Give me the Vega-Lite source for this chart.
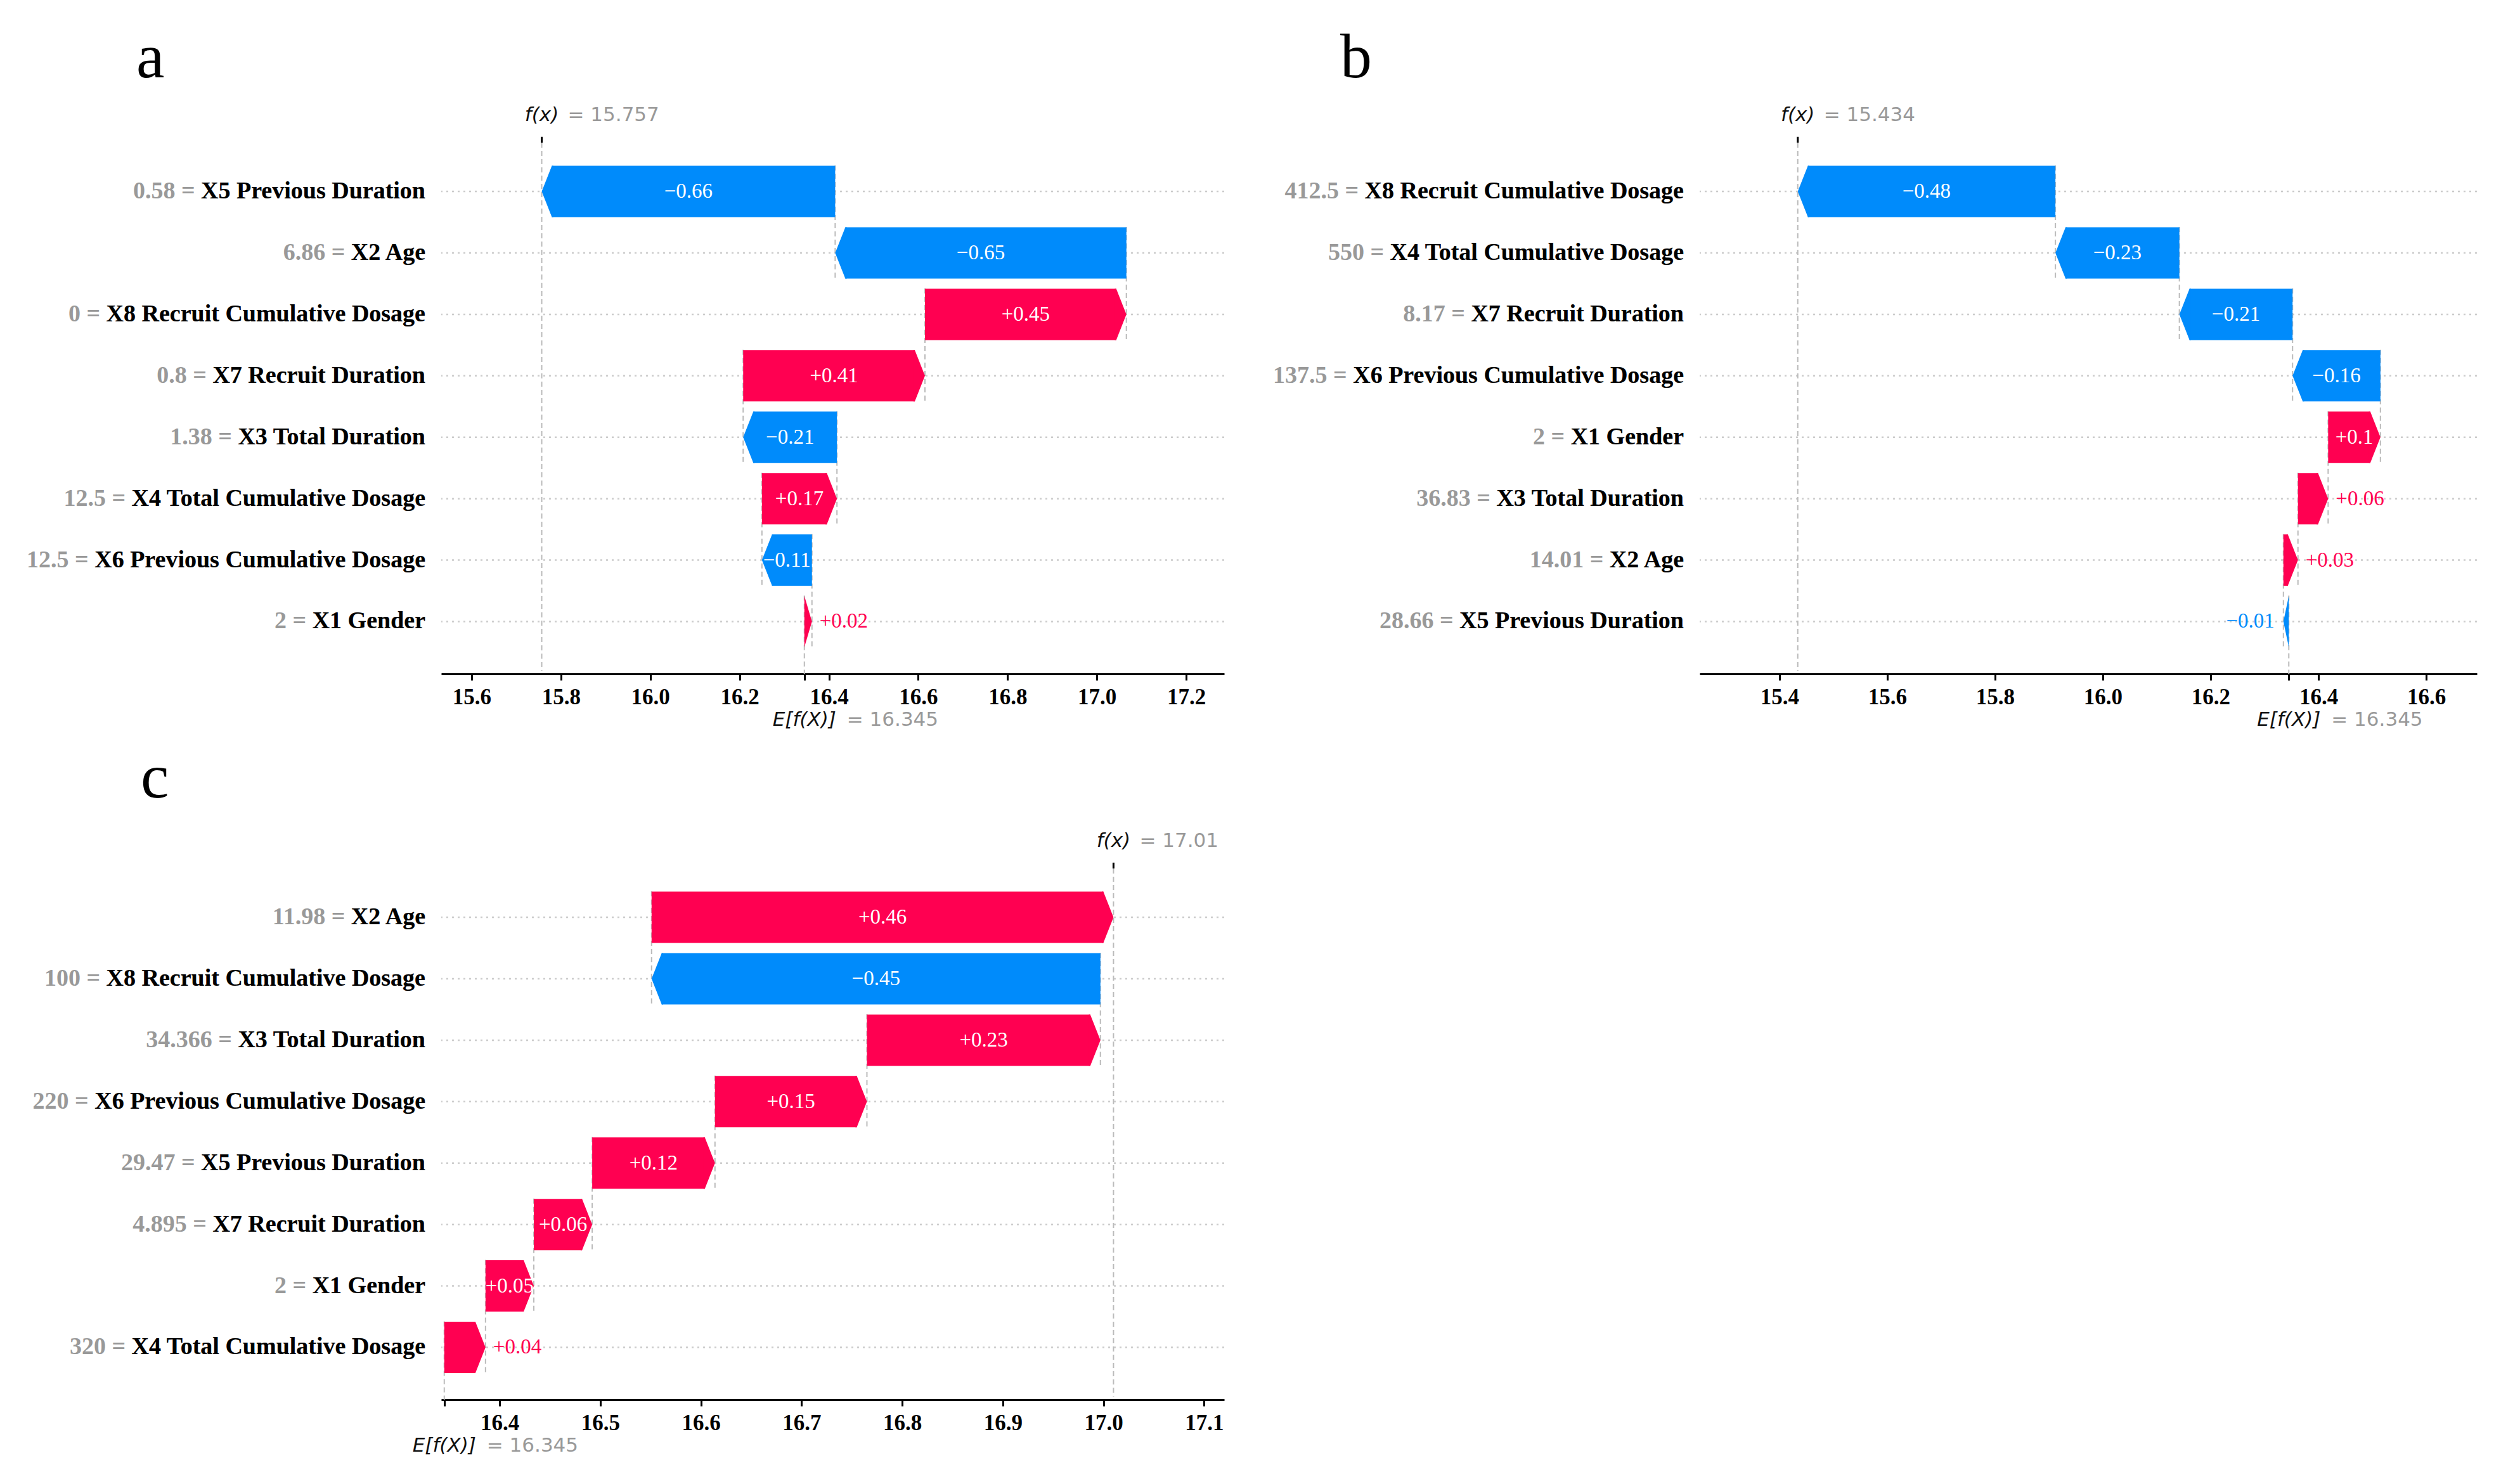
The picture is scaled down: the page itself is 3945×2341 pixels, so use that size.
{
"$schema": "https://vega.github.io/schema/vega-lite/v6.json",
"background": "white",
"padding": {"left": 42, "top": 41, "right": 0, "bottom": 0},
"bounds": "flush",
"columns": 2,
"spacing": {"row": 302, "column": 750},
"config": {"view": {"stroke": null}},
"datasets": {
"a": [
{"rank":1,"val":"0.58","feature":"X5 Previous Duration","start":16.414,"end":15.757,"label":"−0.66"},
{"rank":2,"val":"6.86","feature":"X2 Age","start":17.066,"end":16.414,"label":"−0.65"},
{"rank":3,"val":"0","feature":"X8 Recruit Cumulative Dosage","start":16.615,"end":17.066,"label":"+0.45"},
{"rank":4,"val":"0.8","feature":"X7 Recruit Duration","start":16.208,"end":16.615,"label":"+0.41"},
{"rank":5,"val":"1.38","feature":"X3 Total Duration","start":16.418,"end":16.208,"label":"−0.21"},
{"rank":6,"val":"12.5","feature":"X4 Total Cumulative Dosage","start":16.25,"end":16.418,"label":"+0.17"},
{"rank":7,"val":"12.5","feature":"X6 Previous Cumulative Dosage","start":16.362,"end":16.25,"label":"−0.11"},
{"rank":8,"val":"2","feature":"X1 Gender","start":16.345,"end":16.362,"label":"+0.02"}
],
"b": [
{"rank":1,"val":"412.5","feature":"X8 Recruit Cumulative Dosage","start":15.912,"end":15.434,"label":"−0.48"},
{"rank":2,"val":"550","feature":"X4 Total Cumulative Dosage","start":16.142,"end":15.912,"label":"−0.23"},
{"rank":3,"val":"8.17","feature":"X7 Recruit Duration","start":16.352,"end":16.142,"label":"−0.21"},
{"rank":4,"val":"137.5","feature":"X6 Previous Cumulative Dosage","start":16.515,"end":16.352,"label":"−0.16"},
{"rank":5,"val":"2","feature":"X1 Gender","start":16.418,"end":16.515,"label":"+0.1"},
{"rank":6,"val":"36.83","feature":"X3 Total Duration","start":16.362,"end":16.418,"label":"+0.06"},
{"rank":7,"val":"14.01","feature":"X2 Age","start":16.335,"end":16.362,"label":"+0.03"},
{"rank":8,"val":"28.66","feature":"X5 Previous Duration","start":16.345,"end":16.335,"label":"−0.01"}
],
"c": [
{"rank":1,"val":"11.98","feature":"X2 Age","start":16.551,"end":17.01,"label":"+0.46"},
{"rank":2,"val":"100","feature":"X8 Recruit Cumulative Dosage","start":16.997,"end":16.551,"label":"−0.45"},
{"rank":3,"val":"34.366","feature":"X3 Total Duration","start":16.765,"end":16.997,"label":"+0.23"},
{"rank":4,"val":"220","feature":"X6 Previous Cumulative Dosage","start":16.614,"end":16.765,"label":"+0.15"},
{"rank":5,"val":"29.47","feature":"X5 Previous Duration","start":16.492,"end":16.614,"label":"+0.12"},
{"rank":6,"val":"4.895","feature":"X7 Recruit Duration","start":16.434,"end":16.492,"label":"+0.06"},
{"rank":7,"val":"2","feature":"X1 Gender","start":16.386,"end":16.434,"label":"+0.05"},
{"rank":8,"val":"320","feature":"X4 Total Cumulative Dosage","start":16.345,"end":16.386,"label":"+0.04"}
]
},
"concat": [
{
"width": 1235, "height": 843,
"data": {"name": "a"},
"title": {"text": "a", "anchor": "start", "frame": "group", "dx": -481, "offset": -56, "fontSize": 100, "font": "Liberation Serif", "fontWeight": "normal", "color": "#000000", "baseline": "alphabetic"},
"layer": [
{"mark": {"type": "rule", "color": "#cccccc", "strokeWidth": 2.5, "strokeDash": [3, 6]},
 "encoding": {"y": {"field": "rank", "type": "quantitative", "scale": {"domain": [0.205, 8.8], "nice": false, "zero": false, "reverse": true}, "axis": null}}},
{"mark": {"type": "rule", "color": "#bbbbbb", "strokeWidth": 2, "strokeDash": [8, 5], "yOffset": -41, "y2Offset": 139, "clip": true},
 "encoding": {"x": {"field": "start", "type": "quantitative", "scale": {"domain": [15.532, 17.285], "nice": false, "zero": false},
   "axis": {"values": [15.6, 15.8, 16.0, 16.2, 16.4, 16.6, 16.8, 17.0, 17.2, 16.345], "labelExpr": "datum.value == 16.345 ? '' : format(datum.value, '.1f')", "title": null, "grid": false, "domainColor": "#000000", "domainWidth": 3, "tickColor": "#000000", "tickWidth": 3, "tickSize": 10, "labelFont": "Liberation Serif", "labelFontSize": 35, "labelFontWeight": "bold", "labelColor": "#000000", "labelPadding": 9, "labelFlush": false, "labelOverlap": false}},
   "y": {"field": "rank", "type": "quantitative", "scale": {"domain": [0.205, 8.8], "nice": false, "zero": false, "reverse": true}, "axis": null},
   "y2": {"field": "rank"}}},
{"data": {"values": [{}]}, "mark": {"type": "rule", "color": "#bbbbbb", "strokeWidth": 2, "strokeDash": [8, 5]},
 "encoding": {"x": {"datum": 15.757, "type": "quantitative"}, "y": {"datum": 0.205, "type": "quantitative", "axis": null}, "y2": {"datum": 8.8}}},
{"data": {"values": [{}]}, "mark": {"type": "rule", "color": "#000000", "strokeWidth": 3},
 "encoding": {"x": {"datum": 15.757, "type": "quantitative"}, "y": {"datum": 0.11, "type": "quantitative", "axis": null}, "y2": {"datum": 0.205}}},
{"transform": [{"filter": "datum.end - datum.start > 0.023"}],
 "mark": {"type": "bar", "size": 81, "x2Offset": -16, "color": "#ff0051"},
 "encoding": {"x": {"field": "start", "type": "quantitative"}, "x2": {"field": "end"}, "y": {"field": "rank", "type": "quantitative", "axis": null}}},
{"transform": [{"filter": "datum.start - datum.end > 0.023"}],
 "mark": {"type": "bar", "size": 81, "x2Offset": 16, "color": "#008bfb"},
 "encoding": {"x": {"field": "start", "type": "quantitative"}, "x2": {"field": "end"}, "y": {"field": "rank", "type": "quantitative", "axis": null}}},
{"transform": [{"filter": "datum.end - datum.start > 0.023"}],
 "mark": {"type": "point", "shape": "M-0.45,-1L-0.395,-1L0,0L-0.395,1L-0.45,1Z", "size": 6561, "filled": true, "opacity": 1, "strokeWidth": 0, "color": "#ff0051"},
 "encoding": {"x": {"field": "end", "type": "quantitative"}, "y": {"field": "rank", "type": "quantitative", "axis": null}}},
{"transform": [{"filter": "datum.start - datum.end > 0.023"}],
 "mark": {"type": "point", "shape": "M0.45,-1L0.395,-1L0,0L0.395,1L0.45,1Z", "size": 6561, "filled": true, "opacity": 1, "strokeWidth": 0, "color": "#008bfb"},
 "encoding": {"x": {"field": "end", "type": "quantitative"}, "y": {"field": "rank", "type": "quantitative", "axis": null}}},
{"transform": [{"filter": "datum.end > datum.start && datum.end - datum.start <= 0.023"}],
 "mark": {"type": "point", "shape": "M-0.296,-1L0,0L-0.296,1Z", "size": 6561, "filled": true, "opacity": 1, "strokeWidth": 0, "color": "#ff0051"},
 "encoding": {"x": {"field": "end", "type": "quantitative"}, "y": {"field": "rank", "type": "quantitative", "axis": null}}},
{"transform": [{"filter": "abs(datum.end - datum.start) >= 0.05"}, {"calculate": "(datum.start + datum.end) / 2", "as": "mid"}],
 "mark": {"type": "text", "font": "Liberation Serif", "fontSize": 33, "color": "#ffffff", "align": "center", "baseline": "middle"},
 "encoding": {"x": {"field": "mid", "type": "quantitative"}, "y": {"field": "rank", "type": "quantitative", "axis": null}, "text": {"field": "label"}}},
{"transform": [{"filter": "datum.end > datum.start && datum.end - datum.start < 0.05"}],
 "mark": {"type": "text", "font": "Liberation Serif", "fontSize": 33, "color": "#ff0051", "align": "left", "baseline": "middle", "dx": 12},
 "encoding": {"x": {"field": "end", "type": "quantitative"}, "y": {"field": "rank", "type": "quantitative", "axis": null}, "text": {"field": "label"}}},
{"transform": [{"calculate": "datum.val + ' = ' + datum.feature", "as": "full"}],
 "mark": {"type": "text", "font": "Liberation Serif", "fontSize": 38, "fontWeight": "bold", "color": "#999999", "align": "right", "baseline": "middle", "dx": -25},
 "encoding": {"x": {"datum": 15.532, "type": "quantitative"}, "y": {"field": "rank", "type": "quantitative", "axis": null}, "text": {"field": "full"}}},
{"mark": {"type": "text", "font": "Liberation Serif", "fontSize": 38, "fontWeight": "bold", "color": "#000000", "align": "right", "baseline": "middle", "dx": -25},
 "encoding": {"x": {"datum": 15.532, "type": "quantitative"}, "y": {"field": "rank", "type": "quantitative", "axis": null}, "text": {"field": "feature"}}},
{"data": {"values": [{}]}, "mark": {"type": "text", "text": "f(x)", "font": "DejaVu Sans", "fontSize": 31, "fontStyle": "italic", "color": "#111111", "align": "center", "baseline": "middle"},
 "encoding": {"x": {"datum": 15.757, "type": "quantitative"}, "y": {"datum": -0.24, "type": "quantitative", "axis": null}}},
{"data": {"values": [{}]}, "mark": {"type": "text", "text": "= 15.757", "font": "DejaVu Sans", "fontSize": 31, "color": "#999999", "align": "left", "baseline": "middle", "dx": 41},
 "encoding": {"x": {"datum": 15.757, "type": "quantitative"}, "y": {"datum": -0.24, "type": "quantitative", "axis": null}}},
{"data": {"values": [{}]}, "mark": {"type": "text", "text": "E[f(X)]", "font": "DejaVu Sans", "fontSize": 31, "fontStyle": "italic", "color": "#111111", "align": "center", "baseline": "middle"},
 "encoding": {"x": {"datum": 16.345, "type": "quantitative"}, "y": {"datum": 9.6, "type": "quantitative", "axis": null}}},
{"data": {"values": [{}]}, "mark": {"type": "text", "text": "= 16.345", "font": "DejaVu Sans", "fontSize": 31, "color": "#999999", "align": "left", "baseline": "middle", "dx": 67},
 "encoding": {"x": {"datum": 16.345, "type": "quantitative"}, "y": {"datum": 9.6, "type": "quantitative", "axis": null}}}
]
},
{
"width": 1226, "height": 843,
"data": {"name": "b"},
"title": {"text": "b", "anchor": "start", "frame": "group", "dx": -567, "offset": -56, "fontSize": 100, "font": "Liberation Serif", "fontWeight": "normal", "color": "#000000", "baseline": "alphabetic"},
"layer": [
{"mark": {"type": "rule", "color": "#cccccc", "strokeWidth": 2.5, "strokeDash": [3, 6]},
 "encoding": {"y": {"field": "rank", "type": "quantitative", "scale": {"domain": [0.205, 8.8], "nice": false, "zero": false, "reverse": true}, "axis": null}}},
{"mark": {"type": "rule", "color": "#bbbbbb", "strokeWidth": 2, "strokeDash": [8, 5], "yOffset": -41, "y2Offset": 139, "clip": true},
 "encoding": {"x": {"field": "start", "type": "quantitative", "scale": {"domain": [15.252, 16.694], "nice": false, "zero": false},
   "axis": {"values": [15.4, 15.6, 15.8, 16.0, 16.2, 16.4, 16.6, 16.345], "labelExpr": "datum.value == 16.345 ? '' : format(datum.value, '.1f')", "title": null, "grid": false, "domainColor": "#000000", "domainWidth": 3, "tickColor": "#000000", "tickWidth": 3, "tickSize": 10, "labelFont": "Liberation Serif", "labelFontSize": 35, "labelFontWeight": "bold", "labelColor": "#000000", "labelPadding": 9, "labelFlush": false, "labelOverlap": false}},
   "y": {"field": "rank", "type": "quantitative", "scale": {"domain": [0.205, 8.8], "nice": false, "zero": false, "reverse": true}, "axis": null},
   "y2": {"field": "rank"}}},
{"data": {"values": [{}]}, "mark": {"type": "rule", "color": "#bbbbbb", "strokeWidth": 2, "strokeDash": [8, 5]},
 "encoding": {"x": {"datum": 15.434, "type": "quantitative"}, "y": {"datum": 0.205, "type": "quantitative", "axis": null}, "y2": {"datum": 8.8}}},
{"data": {"values": [{}]}, "mark": {"type": "rule", "color": "#000000", "strokeWidth": 3},
 "encoding": {"x": {"datum": 15.434, "type": "quantitative"}, "y": {"datum": 0.11, "type": "quantitative", "axis": null}, "y2": {"datum": 0.205}}},
{"transform": [{"filter": "datum.end - datum.start > 0.019"}],
 "mark": {"type": "bar", "size": 81, "x2Offset": -16, "color": "#ff0051"},
 "encoding": {"x": {"field": "start", "type": "quantitative"}, "x2": {"field": "end"}, "y": {"field": "rank", "type": "quantitative", "axis": null}}},
{"transform": [{"filter": "datum.start - datum.end > 0.019"}],
 "mark": {"type": "bar", "size": 81, "x2Offset": 16, "color": "#008bfb"},
 "encoding": {"x": {"field": "start", "type": "quantitative"}, "x2": {"field": "end"}, "y": {"field": "rank", "type": "quantitative", "axis": null}}},
{"transform": [{"filter": "datum.end - datum.start > 0.019"}],
 "mark": {"type": "point", "shape": "M-0.45,-1L-0.395,-1L0,0L-0.395,1L-0.45,1Z", "size": 6561, "filled": true, "opacity": 1, "strokeWidth": 0, "color": "#ff0051"},
 "encoding": {"x": {"field": "end", "type": "quantitative"}, "y": {"field": "rank", "type": "quantitative", "axis": null}}},
{"transform": [{"filter": "datum.start - datum.end > 0.019"}],
 "mark": {"type": "point", "shape": "M0.45,-1L0.395,-1L0,0L0.395,1L0.45,1Z", "size": 6561, "filled": true, "opacity": 1, "strokeWidth": 0, "color": "#008bfb"},
 "encoding": {"x": {"field": "end", "type": "quantitative"}, "y": {"field": "rank", "type": "quantitative", "axis": null}}},
{"transform": [{"filter": "datum.start > datum.end && datum.start - datum.end <= 0.019"}],
 "mark": {"type": "point", "shape": "M0.21,-1L0,0L0.21,1Z", "size": 6561, "filled": true, "opacity": 1, "strokeWidth": 0, "color": "#008bfb"},
 "encoding": {"x": {"field": "end", "type": "quantitative"}, "y": {"field": "rank", "type": "quantitative", "axis": null}}},
{"transform": [{"filter": "abs(datum.end - datum.start) >= 0.08"}, {"calculate": "(datum.start + datum.end) / 2", "as": "mid"}],
 "mark": {"type": "text", "font": "Liberation Serif", "fontSize": 33, "color": "#ffffff", "align": "center", "baseline": "middle"},
 "encoding": {"x": {"field": "mid", "type": "quantitative"}, "y": {"field": "rank", "type": "quantitative", "axis": null}, "text": {"field": "label"}}},
{"transform": [{"filter": "datum.end > datum.start && datum.end - datum.start < 0.08"}],
 "mark": {"type": "text", "font": "Liberation Serif", "fontSize": 33, "color": "#ff0051", "align": "left", "baseline": "middle", "dx": 12},
 "encoding": {"x": {"field": "end", "type": "quantitative"}, "y": {"field": "rank", "type": "quantitative", "axis": null}, "text": {"field": "label"}}},
{"transform": [{"filter": "datum.start > datum.end && datum.start - datum.end < 0.08"}],
 "mark": {"type": "text", "font": "Liberation Serif", "fontSize": 33, "color": "#008bfb", "align": "right", "baseline": "middle", "dx": -14},
 "encoding": {"x": {"field": "end", "type": "quantitative"}, "y": {"field": "rank", "type": "quantitative", "axis": null}, "text": {"field": "label"}}},
{"transform": [{"calculate": "datum.val + ' = ' + datum.feature", "as": "full"}],
 "mark": {"type": "text", "font": "Liberation Serif", "fontSize": 38, "fontWeight": "bold", "color": "#999999", "align": "right", "baseline": "middle", "dx": -25},
 "encoding": {"x": {"datum": 15.252, "type": "quantitative"}, "y": {"field": "rank", "type": "quantitative", "axis": null}, "text": {"field": "full"}}},
{"mark": {"type": "text", "font": "Liberation Serif", "fontSize": 38, "fontWeight": "bold", "color": "#000000", "align": "right", "baseline": "middle", "dx": -25},
 "encoding": {"x": {"datum": 15.252, "type": "quantitative"}, "y": {"field": "rank", "type": "quantitative", "axis": null}, "text": {"field": "feature"}}},
{"data": {"values": [{}]}, "mark": {"type": "text", "text": "f(x)", "font": "DejaVu Sans", "fontSize": 31, "fontStyle": "italic", "color": "#111111", "align": "center", "baseline": "middle"},
 "encoding": {"x": {"datum": 15.434, "type": "quantitative"}, "y": {"datum": -0.24, "type": "quantitative", "axis": null}}},
{"data": {"values": [{}]}, "mark": {"type": "text", "text": "= 15.434", "font": "DejaVu Sans", "fontSize": 31, "color": "#999999", "align": "left", "baseline": "middle", "dx": 41},
 "encoding": {"x": {"datum": 15.434, "type": "quantitative"}, "y": {"datum": -0.24, "type": "quantitative", "axis": null}}},
{"data": {"values": [{}]}, "mark": {"type": "text", "text": "E[f(X)]", "font": "DejaVu Sans", "fontSize": 31, "fontStyle": "italic", "color": "#111111", "align": "center", "baseline": "middle"},
 "encoding": {"x": {"datum": 16.345, "type": "quantitative"}, "y": {"datum": 9.6, "type": "quantitative", "axis": null}}},
{"data": {"values": [{}]}, "mark": {"type": "text", "text": "= 16.345", "font": "DejaVu Sans", "fontSize": 31, "color": "#999999", "align": "left", "baseline": "middle", "dx": 67},
 "encoding": {"x": {"datum": 16.345, "type": "quantitative"}, "y": {"datum": 9.6, "type": "quantitative", "axis": null}}}
]
},
{
"width": 1235, "height": 843,
"data": {"name": "c"},
"title": {"text": "c", "anchor": "start", "frame": "group", "dx": -474, "offset": -47, "fontSize": 100, "font": "Liberation Serif", "fontWeight": "normal", "color": "#000000", "baseline": "alphabetic"},
"layer": [
{"mark": {"type": "rule", "color": "#cccccc", "strokeWidth": 2.5, "strokeDash": [3, 6]},
 "encoding": {"y": {"field": "rank", "type": "quantitative", "scale": {"domain": [0.205, 8.8], "nice": false, "zero": false, "reverse": true}, "axis": null}}},
{"mark": {"type": "rule", "color": "#bbbbbb", "strokeWidth": 2, "strokeDash": [8, 5], "yOffset": -41, "y2Offset": 139, "clip": true},
 "encoding": {"x": {"field": "start", "type": "quantitative", "scale": {"domain": [16.342, 17.12], "nice": false, "zero": false},
   "axis": {"values": [16.4, 16.5, 16.6, 16.7, 16.8, 16.9, 17.0, 17.1, 16.345], "labelExpr": "datum.value == 16.345 ? '' : format(datum.value, '.1f')", "title": null, "grid": false, "domainColor": "#000000", "domainWidth": 3, "tickColor": "#000000", "tickWidth": 3, "tickSize": 10, "labelFont": "Liberation Serif", "labelFontSize": 35, "labelFontWeight": "bold", "labelColor": "#000000", "labelPadding": 9, "labelFlush": false, "labelOverlap": false}},
   "y": {"field": "rank", "type": "quantitative", "scale": {"domain": [0.205, 8.8], "nice": false, "zero": false, "reverse": true}, "axis": null},
   "y2": {"field": "rank"}}},
{"data": {"values": [{}]}, "mark": {"type": "rule", "color": "#bbbbbb", "strokeWidth": 2, "strokeDash": [8, 5]},
 "encoding": {"x": {"datum": 17.01, "type": "quantitative"}, "y": {"datum": 0.205, "type": "quantitative", "axis": null}, "y2": {"datum": 8.8}}},
{"data": {"values": [{}]}, "mark": {"type": "rule", "color": "#000000", "strokeWidth": 3},
 "encoding": {"x": {"datum": 17.01, "type": "quantitative"}, "y": {"datum": 0.11, "type": "quantitative", "axis": null}, "y2": {"datum": 0.205}}},
{"transform": [{"filter": "datum.end - datum.start > 0.01"}],
 "mark": {"type": "bar", "size": 81, "x2Offset": -16, "color": "#ff0051"},
 "encoding": {"x": {"field": "start", "type": "quantitative"}, "x2": {"field": "end"}, "y": {"field": "rank", "type": "quantitative", "axis": null}}},
{"transform": [{"filter": "datum.start - datum.end > 0.01"}],
 "mark": {"type": "bar", "size": 81, "x2Offset": 16, "color": "#008bfb"},
 "encoding": {"x": {"field": "start", "type": "quantitative"}, "x2": {"field": "end"}, "y": {"field": "rank", "type": "quantitative", "axis": null}}},
{"transform": [{"filter": "datum.end - datum.start > 0.01"}],
 "mark": {"type": "point", "shape": "M-0.45,-1L-0.395,-1L0,0L-0.395,1L-0.45,1Z", "size": 6561, "filled": true, "opacity": 1, "strokeWidth": 0, "color": "#ff0051"},
 "encoding": {"x": {"field": "end", "type": "quantitative"}, "y": {"field": "rank", "type": "quantitative", "axis": null}}},
{"transform": [{"filter": "datum.start - datum.end > 0.01"}],
 "mark": {"type": "point", "shape": "M0.45,-1L0.395,-1L0,0L0.395,1L0.45,1Z", "size": 6561, "filled": true, "opacity": 1, "strokeWidth": 0, "color": "#008bfb"},
 "encoding": {"x": {"field": "end", "type": "quantitative"}, "y": {"field": "rank", "type": "quantitative", "axis": null}}},
{"transform": [{"filter": "abs(datum.end - datum.start) >= 0.045"}, {"calculate": "(datum.start + datum.end) / 2", "as": "mid"}],
 "mark": {"type": "text", "font": "Liberation Serif", "fontSize": 33, "color": "#ffffff", "align": "center", "baseline": "middle"},
 "encoding": {"x": {"field": "mid", "type": "quantitative"}, "y": {"field": "rank", "type": "quantitative", "axis": null}, "text": {"field": "label"}}},
{"transform": [{"filter": "datum.end > datum.start && datum.end - datum.start < 0.045"}],
 "mark": {"type": "text", "font": "Liberation Serif", "fontSize": 33, "color": "#ff0051", "align": "left", "baseline": "middle", "dx": 12},
 "encoding": {"x": {"field": "end", "type": "quantitative"}, "y": {"field": "rank", "type": "quantitative", "axis": null}, "text": {"field": "label"}}},
{"transform": [{"calculate": "datum.val + ' = ' + datum.feature", "as": "full"}],
 "mark": {"type": "text", "font": "Liberation Serif", "fontSize": 38, "fontWeight": "bold", "color": "#999999", "align": "right", "baseline": "middle", "dx": -25},
 "encoding": {"x": {"datum": 16.342, "type": "quantitative"}, "y": {"field": "rank", "type": "quantitative", "axis": null}, "text": {"field": "full"}}},
{"mark": {"type": "text", "font": "Liberation Serif", "fontSize": 38, "fontWeight": "bold", "color": "#000000", "align": "right", "baseline": "middle", "dx": -25},
 "encoding": {"x": {"datum": 16.342, "type": "quantitative"}, "y": {"field": "rank", "type": "quantitative", "axis": null}, "text": {"field": "feature"}}},
{"data": {"values": [{}]}, "mark": {"type": "text", "text": "f(x)", "font": "DejaVu Sans", "fontSize": 31, "fontStyle": "italic", "color": "#111111", "align": "center", "baseline": "middle"},
 "encoding": {"x": {"datum": 17.01, "type": "quantitative"}, "y": {"datum": -0.24, "type": "quantitative", "axis": null}}},
{"data": {"values": [{}]}, "mark": {"type": "text", "text": "= 17.01", "font": "DejaVu Sans", "fontSize": 31, "color": "#999999", "align": "left", "baseline": "middle", "dx": 41},
 "encoding": {"x": {"datum": 17.01, "type": "quantitative"}, "y": {"datum": -0.24, "type": "quantitative", "axis": null}}},
{"data": {"values": [{}]}, "mark": {"type": "text", "text": "E[f(X)]", "font": "DejaVu Sans", "fontSize": 31, "fontStyle": "italic", "color": "#111111", "align": "center", "baseline": "middle"},
 "encoding": {"x": {"datum": 16.345, "type": "quantitative"}, "y": {"datum": 9.6, "type": "quantitative", "axis": null}}},
{"data": {"values": [{}]}, "mark": {"type": "text", "text": "= 16.345", "font": "DejaVu Sans", "fontSize": 31, "color": "#999999", "align": "left", "baseline": "middle", "dx": 67},
 "encoding": {"x": {"datum": 16.345, "type": "quantitative"}, "y": {"datum": 9.6, "type": "quantitative", "axis": null}}}
]
}
]
}
